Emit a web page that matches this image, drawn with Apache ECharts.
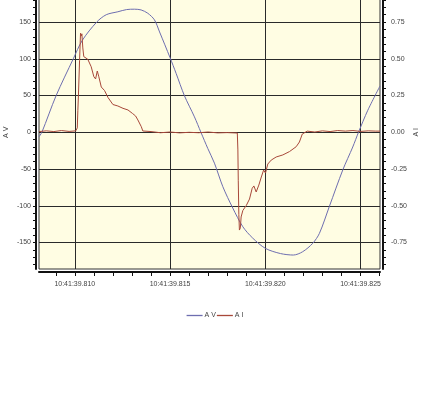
<!DOCTYPE html>
<html>
<head>
<meta charset="utf-8">
<script src="https://cdn.jsdelivr.net/npm/echarts@6/dist/echarts.min.js"></script>
<style>
html,body{margin:0;padding:0;background:#ffffff;}
#chart{width:430px;height:400px;}
</style>
</head>
<body>
<div id="chart"></div>
<script>
// time in ms after 10:41:39.800
const voltageTime = [8.12, 8.27, 9.02, 9.92, 10.39, 11.15, 11.65, 12.26, 12.72, 13.13, 13.48, 13.83, 14.18, 14.45, 15.0, 15.32, 15.75, 16.28, 16.62, 16.98, 17.33, 17.77, 18.29, 18.82, 19.34, 20.01, 20.8, 21.47, 21.96, 22.49, 22.84, 23.36, 24.07, 24.59, 24.89, 25.38, 26.02];
const voltageValues = [-6, 0, 50, 100, 125, 150, 160, 164, 167, 167.5, 166.5, 162, 153, 136.5, 101.5, 80, 50, 21, 0, -22, -42, -74, -103, -128.5, -144, -158, -165, -167, -162.5, -151, -137.5, -101, -51, -20, 0, 30, 63];

const currentTime = [8.12, 8.5, 8.9, 9.3, 9.7, 10.05, 10.09, 10.13, 10.16, 10.19, 10.25, 10.30, 10.34, 10.37, 10.42, 10.47, 10.56, 10.68, 10.77, 10.86, 11.0, 11.09, 11.18, 11.26, 11.39, 11.56, 11.74, 12.0, 12.26, 12.53, 12.79, 13.03, 13.19, 13.31, 13.49, 13.57, 14.0, 14.5, 15.0, 15.5, 16.0, 16.5, 17.0, 17.5, 18.0, 18.53, 18.56, 18.58, 18.61, 18.64, 18.69, 18.73, 18.82, 18.91, 19.0, 19.17, 19.31, 19.40, 19.52, 19.66, 19.79, 19.91, 20.01, 20.13, 20.31, 20.57, 20.92, 21.27, 21.62, 21.79, 21.94, 22.2, 22.6, 23.0, 23.4, 23.8, 24.2, 24.6, 25.0, 25.4, 25.8, 26.02];
const currentValues = [0.005, 0.01, 0.005, 0.012, 0.006, 0.01, 0.009, 0.03, 0.15, 0.25, 0.49, 0.674, 0.655, 0.67, 0.574, 0.515, 0.504, 0.497, 0.489, 0.446, 0.378, 0.363, 0.417, 0.378, 0.308, 0.284, 0.237, 0.189, 0.179, 0.163, 0.152, 0.128, 0.111, 0.084, 0.038, 0.009, 0.005, -0.003, 0.002, -0.004, 0.0, -0.003, 0.002, -0.004, -0.002, -0.005, -0.12, -0.33, -0.56, -0.665, -0.65, -0.576, -0.532, -0.515, -0.498, -0.454, -0.381, -0.365, -0.406, -0.359, -0.304, -0.257, -0.277, -0.216, -0.189, -0.168, -0.154, -0.131, -0.098, -0.066, -0.012, 0.008, 0.002, 0.01, 0.005, 0.012, 0.008, 0.012, 0.006, 0.01, 0.008, 0.008];

const xMajorTicks = [10, 15, 20, 25];
const xTickLabels = ['10:41:39.810', '10:41:39.815', '10:41:39.820', '10:41:39.825'];
const xMinorTicks = [9, 11, 12, 13, 14, 16, 17, 18, 19, 21, 22, 23, 24, 26];
const leftMajorTicks = [-150, -100, -50, 0, 50, 100, 150];
const leftMinorTicks = [-180, -170, -160, -140, -130, -120, -110, -90, -80, -70, -60, -40, -30, -20, -10, 10, 20, 30, 40, 60, 70, 80, 90, 110, 120, 130, 140, 160, 170, 180];
const rightMajorTicks = [-0.75, -0.5, -0.25, 0, 0.25, 0.5, 0.75];
const rightMinorTicks = [-0.9, -0.85, -0.8, -0.7, -0.65, -0.6, -0.55, -0.45, -0.4, -0.35, -0.3, -0.2, -0.15, -0.1, -0.05, 0.05, 0.1, 0.15, 0.2, 0.3, 0.35, 0.4, 0.45, 0.55, 0.6, 0.65, 0.7, 0.8, 0.85, 0.9];
const seriesNames = ['A V', 'A I'];

const voltageData = voltageTime.map((t, i) => [t, voltageValues[i]]);
const currentData = currentTime.map((t, i) => [t, currentValues[i]]);

const labelFont = { fontSize: 7, color: '#444', fontFamily: 'Liberation Sans, Arial, sans-serif' };
const axisLineStyle = { color: '#111', width: 2 };
const X_MIN = 8.12, X_MAX = 26.02, Y_MIN = -186, Y_MAX = 186, I_MIN = -0.93, I_MAX = 0.93;

const chart = echarts.init(document.getElementById('chart'), null, { renderer: 'canvas' });
chart.setOption({
  animation: false,
  backgroundColor: '#ffffff',
  grid: {
    left: 39, right: 50, top: -4.4, bottom: 131,
    containLabel: false, outerBoundsMode: 'none',
    show: true, backgroundColor: '#FFFDE3', borderColor: '#333', borderWidth: 1
  },
  legend: {
    data: seriesNames,
    bottom: 76, left: 'center',
    icon: 'rect', itemWidth: 16, itemHeight: 1.3, itemGap: 1,
    textStyle: Object.assign({}, labelFont, { padding: [0, 0, 0, -3] })
  },
  xAxis: [
    {
      type: 'value', min: X_MIN, max: X_MAX, position: 'bottom', offset: 3,
      axisLine: { show: true, onZero: false, lineStyle: axisLineStyle },
      axisTick: { show: true, length: 4, customValues: xMajorTicks, lineStyle: { color: '#111' } },
      axisLabel: Object.assign({
        customValues: xMajorTicks, margin: 9,
        formatter: v => xTickLabels[xMajorTicks.indexOf(Math.round(v))] || ''
      }, labelFont),
      splitLine: { show: true, lineStyle: { color: '#2a2a2a', width: 1 } }
    },
    {
      type: 'value', min: X_MIN, max: X_MAX, position: 'bottom', offset: 3,
      axisLine: { show: false, onZero: false },
      axisTick: { show: true, length: 4, customValues: xMinorTicks, lineStyle: { color: '#111' } },
      axisLabel: { show: false },
      splitLine: { show: false }
    }
  ],
  yAxis: [
    {
      type: 'value', min: Y_MIN, max: Y_MAX, position: 'left', offset: 3,
      name: seriesNames[0], nameLocation: 'middle', nameGap: 26, nameMoveOverlap: false,
      nameTextStyle: labelFont,
      axisLine: { show: true, onZero: false, lineStyle: axisLineStyle },
      axisTick: { show: true, length: 3, customValues: leftMajorTicks, lineStyle: { color: '#111' } },
      axisLabel: Object.assign({ customValues: leftMajorTicks, margin: 5 }, labelFont),
      splitLine: { show: true, lineStyle: { color: '#2a2a2a', width: 1 } }
    },
    {
      type: 'value', min: Y_MIN, max: Y_MAX, position: 'left', offset: 3,
      axisLine: { show: false, onZero: false },
      axisTick: { show: true, length: 3, customValues: leftMinorTicks, lineStyle: { color: '#111' } },
      axisLabel: { show: false },
      splitLine: { show: false }
    },
    {
      type: 'value', min: I_MIN, max: I_MAX, position: 'right', offset: 3,
      name: seriesNames[1], nameLocation: 'middle', nameGap: 30, nameMoveOverlap: false,
      nameTextStyle: labelFont,
      axisLine: { show: true, onZero: false, lineStyle: axisLineStyle },
      axisTick: { show: true, length: 3, customValues: rightMajorTicks, lineStyle: { color: '#111' } },
      axisLabel: Object.assign({ customValues: rightMajorTicks, margin: 8, formatter: v => v.toFixed(2) }, labelFont),
      splitLine: { show: false }
    },
    {
      type: 'value', min: I_MIN, max: I_MAX, position: 'right', offset: 3,
      axisLine: { show: false, onZero: false },
      axisTick: { show: true, length: 3, customValues: rightMinorTicks, lineStyle: { color: '#111' } },
      axisLabel: { show: false },
      splitLine: { show: false }
    }
  ],
  series: [
    {
      name: seriesNames[0], type: 'line', xAxisIndex: 0, yAxisIndex: 0,
      data: voltageData, symbol: 'none', smooth: 0.3,
      lineStyle: { color: '#6e6eb0', width: 1 }, itemStyle: { color: '#6e6eb0' }
    },
    {
      name: seriesNames[1], type: 'line', xAxisIndex: 0, yAxisIndex: 2,
      data: currentData, symbol: 'none',
      lineStyle: { color: '#a8483a', width: 1 }, itemStyle: { color: '#a8483a' }
    }
  ]
});
</script>
</body>
</html>
